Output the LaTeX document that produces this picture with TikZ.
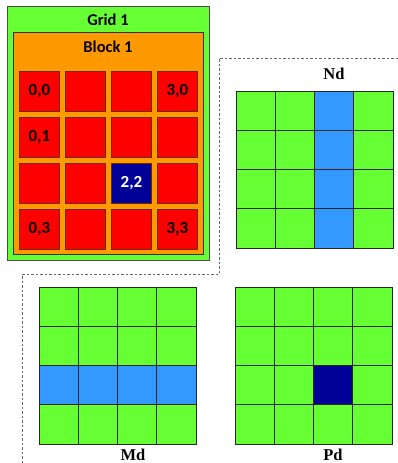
\documentclass[tikz,border=0pt]{standalone}
\usepackage{fontspec}
\setmainfont{Liberation Serif}
\newfontfamily\calib{Carlito}
\definecolor{gridgreen}{HTML}{66FF33}
\definecolor{blockorange}{HTML}{FF9900}
\definecolor{cellred}{HTML}{FF0000}
\definecolor{darkblue}{HTML}{000099}
\definecolor{lightblue}{HTML}{3399FF}
\definecolor{redborder}{HTML}{6B2A00}
\tikzset{
  thread/.style={draw=redborder, line width=0.8pt, fill=cellred, minimum size=40pt, inner sep=0pt, font=\calib\bfseries\fontsize{17}{17}\selectfont},
  mcell/.style={draw=black!85, line width=0.7pt, fill=gridgreen, minimum size=39.25pt, inner sep=0pt},
  lbl/.style={font=\bfseries\fontsize{16.5}{16.5}\selectfont, inner sep=0pt, anchor=base},
  hdr/.style={font=\calib\bfseries\fontsize{16.5}{16.5}\selectfont, inner sep=0pt},
  frame/.style={dashed, draw=black!60, line width=0.7pt, dash pattern=on 2.5pt off 2pt}
}
\begin{document}
\begin{tikzpicture}[x=1pt,y=-1pt]
\useasboundingbox (0,0) rectangle (398,463);
% Grid 1
\node[draw=black!70, line width=0.8pt, fill=gridgreen, minimum width=202pt, minimum height=254pt, inner sep=0pt, anchor=north west] (grid) at (7,6) {};
\node[hdr] (gridlbl) at (108,20) {Grid 1};
\node[draw=black!80, line width=0.8pt, fill=blockorange, minimum width=190pt, minimum height=222pt, inner sep=0pt, anchor=north west] (block) at (13,32) {};
\node[hdr] (blocklbl) at (108,47) {Block 1};
% threads
\foreach \i in {0,1,2,3}{
  \foreach \j in {0,1,2,3}{
    \node[thread] (t-\i-\j) at ({39.5+46*\i},{91+46*\j}) {};
  }
}
\node[thread] at (t-0-0) {0,0};
\node[thread] at (t-3-0) {3,0};
\node[thread] at (t-0-1) {0,1};
\node[thread, fill=darkblue, text=white] (t22) at (t-2-2) {2,2};
\node[thread] at (t-0-3) {0,3};
\node[thread] at (t-3-3) {3,3};
% dashed frame
\coordinate (d0) at (398,58);
\coordinate (d1) at (219,58);
\coordinate (d2) at (219,274);
\coordinate (d3) at (22,274);
\coordinate (d4) at (22,463);
\draw[frame] (d0) -- (d1) -- (d2) -- (d3) -- (d4);
% Nd
\foreach \i in {0,1,2,3}{
  \foreach \j in {0,1,2,3}{
    \node[mcell] (n-\i-\j) at ({236+19.625+39.25*\i},{91+19.625+39.25*\j}) {};
  }
}
\foreach \j in {0,1,2,3}{
  \node[mcell, fill=lightblue] at (n-2-\j) {};
}
\node[lbl] (ndlbl) at (334,79) {Nd};
% Md
\foreach \i in {0,1,2,3}{
  \foreach \j in {0,1,2,3}{
    \node[mcell] (m-\i-\j) at ({39+19.625+39.25*\i},{287+19.625+39.25*\j}) {};
  }
}
\foreach \i in {0,1,2,3}{
  \node[mcell, fill=lightblue] at (m-\i-2) {};
}
\node[lbl] (mdlbl) at (133,460) {Md};
% Pd
\foreach \i in {0,1,2,3}{
  \foreach \j in {0,1,2,3}{
    \node[mcell] (p-\i-\j) at ({235+19.625+39.25*\i},{287+19.625+39.25*\j}) {};
  }
}
\node[mcell, fill=darkblue] (p22) at (p-2-2) {};
\node[lbl] (pdlbl) at (333,460) {Pd};
\end{tikzpicture}
\end{document}
